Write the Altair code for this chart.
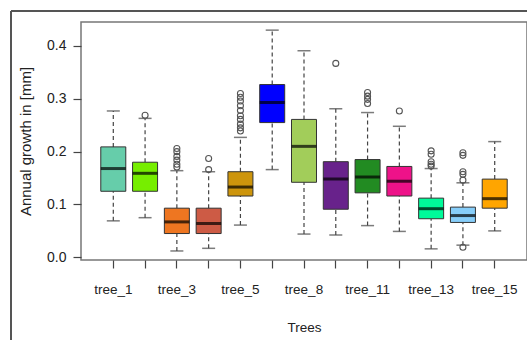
import altair as alt
import pandas as pd

# ---- data ----
trees = ["tree_1", "tree_2", "tree_3", "tree_4", "tree_5", "tree_6", "tree_8",
         "tree_10", "tree_11", "tree_12", "tree_13", "tree_14", "tree_15"]
whisk_lo = [0.069, 0.075, 0.012, 0.017, 0.061, 0.166, 0.044, 0.042, 0.060, 0.049, 0.016, 0.023, 0.050]
q1 =       [0.125, 0.125, 0.045, 0.045, 0.116, 0.255, 0.142, 0.091, 0.122, 0.116, 0.073, 0.066, 0.093]
median =   [0.168, 0.159, 0.067, 0.064, 0.133, 0.293, 0.210, 0.148, 0.152, 0.144, 0.092, 0.079, 0.111]
q3 =       [0.209, 0.180, 0.093, 0.093, 0.162, 0.327, 0.261, 0.181, 0.185, 0.172, 0.112, 0.095, 0.148]
whisk_hi = [0.277, 0.263, 0.164, 0.162, 0.227, 0.430, 0.391, 0.281, 0.274, 0.248, 0.168, 0.141, 0.219]
colors = ["#66CDAA", "#76EE00", "#EE7621", "#CD5B45", "#CD950C", "#0000FF", "#A2CD5A",
          "#68228B", "#228B22", "#EE1289", "#00FA9A", "#87CEFA", "#FFA500"]

outlier_tree = (["tree_2"]
                + ["tree_3"] * 6
                + ["tree_4"] * 2
                + ["tree_5"] * 10
                + ["tree_10"]
                + ["tree_11"] * 4
                + ["tree_12"]
                + ["tree_13"] * 5
                + ["tree_14"] * 6)
outlier_val = ([0.269]
               + [0.206, 0.200, 0.191, 0.184, 0.176, 0.171]
               + [0.187, 0.166]
               + [0.310, 0.303, 0.296, 0.287, 0.278, 0.268, 0.261, 0.252, 0.245, 0.239]
               + [0.367]
               + [0.312, 0.305, 0.299, 0.291]
               + [0.277]
               + [0.2015, 0.195, 0.181, 0.176, 0.1726]
               + [0.198, 0.193, 0.162, 0.157, 0.146, 0.019])

y_ticks = [0.0, 0.1, 0.2, 0.3, 0.4]
shown_labels = trees[::2]

stats = pd.DataFrame({"tree": trees, "lo": whisk_lo, "q1": q1, "med": median,
                      "q3": q3, "hi": whisk_hi, "col": colors})
outl = pd.DataFrame({"tree": outlier_tree, "val": outlier_val})
frame_df = pd.DataFrame({"k": [0]})

FONT = "Liberation Sans"
label_expr = "indexof([" + ",".join("'%s'" % t for t in shown_labels) + "], datum.value) >= 0 ? datum.value : ''"

xenc = alt.X("tree:N", sort=trees,
             scale=alt.Scale(type="band", domain=trees, paddingInner=0, paddingOuter=0.516),
             axis=alt.Axis(title="Trees", labelAngle=0, domain=False, tickSize=8,
                           tickColor="#444", tickWidth=1.2, labelPadding=14,
                           labelExpr=label_expr, labelFont=FONT, labelFontSize=13.5,
                           labelColor="#222", titleFont=FONT, titleFontSize=13.5,
                           titleFontWeight="normal", titleColor="#222", titlePadding=25,
                           grid=False))
yscale = alt.Scale(domain=[-0.0051, 0.4454], nice=False, zero=False)
yaxis = alt.Axis(title="Annual growth in [mm]", values=y_ticks, format=".1f", domain=False,
                 tickSize=8, tickColor="#444", tickWidth=1.2, labelPadding=7,
                 labelFont=FONT, labelFontSize=14, labelColor="#222", titleFont=FONT,
                 titleFontSize=15, titleFontWeight="normal", titleColor="#222",
                 titlePadding=13, grid=False)

base = alt.Chart(stats)

whisk_low = base.mark_rule(color="#444", strokeDash=[4, 3], strokeWidth=1.2).encode(
    x=xenc, y=alt.Y("lo:Q", scale=yscale, axis=yaxis), y2="q1:Q")
whisk_high = base.mark_rule(color="#444", strokeDash=[4, 3], strokeWidth=1.2).encode(
    x=xenc, y=alt.Y("q3:Q", scale=yscale, axis=yaxis), y2="hi:Q")
cap_lo = base.mark_tick(color="#444", size=13, thickness=1.5).encode(
    x=xenc, y=alt.Y("lo:Q", scale=yscale, axis=yaxis))
cap_hi = base.mark_tick(color="#444", size=13, thickness=1.5).encode(
    x=xenc, y=alt.Y("hi:Q", scale=yscale, axis=yaxis))
boxes = base.mark_bar(size=25, stroke="#333", strokeWidth=1).encode(
    x=xenc, y=alt.Y("q1:Q", scale=yscale, axis=yaxis), y2="q3:Q",
    color=alt.Color("col:N", scale=None))
meds = base.mark_tick(color="black", size=25, thickness=3).encode(
    x=xenc, y=alt.Y("med:Q", scale=yscale, axis=yaxis))
pts = alt.Chart(outl).mark_point(shape="circle", filled=False, size=36, color="#555",
                                 strokeWidth=1.1, opacity=1).encode(
    x=xenc, y=alt.Y("val:Q", scale=yscale, axis=yaxis))

frame_left = alt.Chart(frame_df).mark_rule(color="#555", strokeWidth=2).encode(
    x=alt.value(-70), y=alt.value(-11), y2=alt.value(330))
frame_top = alt.Chart(frame_df).mark_rule(color="#555", strokeWidth=2).encode(
    x=alt.value(-70), x2=alt.value(470), y=alt.value(-11))

chart = alt.layer(whisk_low, whisk_high, cap_lo, cap_hi, boxes, meds, pts,
                  frame_left, frame_top).properties(
    width=446, height=238,
    autosize=alt.AutoSizeParams(type="none"),
    padding={"left": 81, "top": 22, "right": 0, "bottom": 80},
    background="white",
).configure_view(stroke="#777", strokeWidth=1.5)

chart.save("out.html", embed_options={"renderer": "svg", "actions": False})
